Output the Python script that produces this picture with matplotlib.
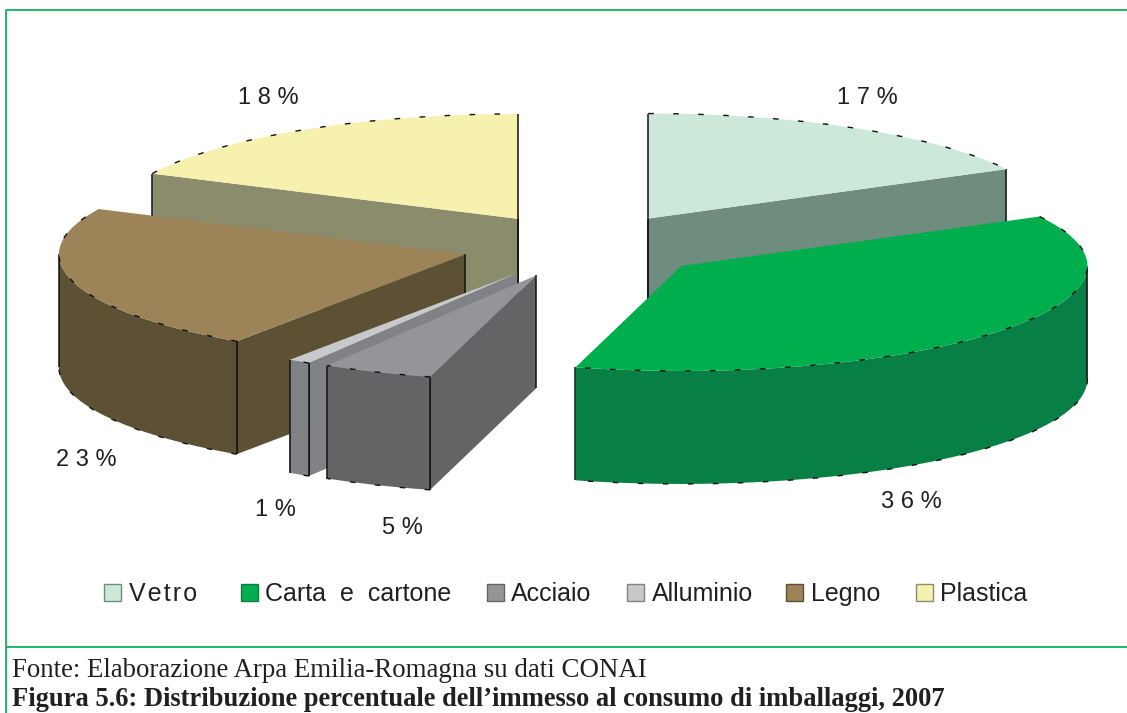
import matplotlib
matplotlib.use('Agg')
import matplotlib.pyplot as plt
from matplotlib.patches import Polygon, Rectangle
import numpy as np

# Slice sizes measured from the drawn angles, clockwise from 12 o'clock
# (the printed labels below are kept as they read on the chart)
categories = ['V\u200ae\u200at\u200ar\u200ao', 'Carta  e  cartone', 'Acciaio', 'Alluminio', 'Legno', 'Plastica']
values = [17.2, 37.0, 4.4, 0.9, 22.6, 17.9]
pct_labels = ['1 7 %', '3 6 %', '5 %', '1 %', '2 3 %', '1 8 %']

# Colours
top_colors = ['#CCE8D8', '#00AE4D', '#939598', '#C7C9CA', '#9C8458', '#F6F1AE']
side_colors = ['#6F8D7F', '#077F45', '#636466', '#808285', '#5C5134', '#8B8C6B']
frame_color = '#22B86B'
text_color = '#231F20'

# Pie geometry in pixels
cx, cy = 584.5, 246
rx, ry = 406, 105
depth = 113
explode = 0.305

# Layout
label_pos = [(867, 98), (911, 502), (402, 528), (275, 510), (86, 460), (268, 98)]
swatch_x = [104, 241, 487, 627, 786, 916]
legend_x = [129, 265, 511, 652, 811, 940]
draw_order = [0, 5, 4, 3, 2, 1]

fig = plt.figure(figsize=(11.27, 7.13), dpi=100)
ax = fig.add_axes([0, 0, 1, 1])
ax.set_xlim(0, 1127)
ax.set_ylim(713, 0)
ax.axis('off')


def arc(c, t0, t1, dy=0):
    t = np.radians(np.linspace(t0, t1, 120))
    return np.column_stack((c[0] + rx * np.sin(t), c[1] - ry * np.cos(t) + dy))


def point(c, t):
    return arc(c, t, t)[0]


def edge_line(a, b, z):
    ax.plot([a[0], b[0]], [a[1], b[1]], color='#111111', lw=1.1,
            solid_capstyle='butt', zorder=z)


def draw_wall(c, t, color, z):
    p = point(c, t)
    ax.add_patch(Polygon([c, p, (p[0], p[1] + depth), (c[0], c[1] + depth)],
                         closed=True, fc=color, ec='none', zorder=z))
    edge_line(p, (p[0], p[1] + depth), z + 1)
    edge_line(c, (c[0], c[1] + depth), z + 1)


bounds = np.concatenate(([0], np.cumsum(values))) * 3.6
bounds[-1] = 360

for k, i in enumerate(draw_order):
    z = 10 * (k + 1)
    t0, t1 = bounds[i], bounds[i + 1]
    mid = np.radians((t0 + t1) / 2)
    c = (cx + explode * rx * np.sin(mid), cy - explode * ry * np.cos(mid))

    # radial walls that face the viewer
    if np.sin(np.radians(t0)) < -1e-6:
        draw_wall(c, t0, side_colors[i], z)
    if np.sin(np.radians(t1)) > 1e-6:
        draw_wall(c, t1, side_colors[i], z)

    # front rim
    r0, r1 = max(t0, 90), min(t1, 270)
    if r1 > r0:
        top_arc = arc(c, r0, r1)
        low_arc = arc(c, r0, r1, depth)
        ax.add_patch(Polygon(np.vstack((top_arc, low_arc[::-1])), closed=True,
                             fc=side_colors[i], ec='none', zorder=z + 2))
        edge_line(top_arc[0], low_arc[0], z + 3)
        edge_line(top_arc[-1], low_arc[-1], z + 3)
        ax.plot(low_arc[:, 0], low_arc[:, 1], color='#111111', lw=1,
                ls=(0, (4, 14)), zorder=z + 3)

    # top surface
    top = arc(c, t0, t1)
    ax.add_patch(Polygon(np.vstack(([c], top)), closed=True, fc=top_colors[i],
                         ec='none', zorder=z + 4))
    ax.plot(top[:, 0], top[:, 1], color='#111111', lw=1, ls=(0, (4, 14)), zorder=z + 5)

    # vertical edge on the 12 o'clock cut
    if t0 == 0:
        edge_line(top[0], (c[0], c[1] + depth), z + 5)
    if t1 == 360:
        edge_line(top[-1], (c[0], c[1] + depth), z + 5)

for (x, y), s in zip(label_pos, pct_labels):
    ax.text(x, y, s, ha='center', va='center', fontsize=17,
            family='Liberation Sans', color=text_color, zorder=100)

# Legend
for i, name in enumerate(categories):
    ax.add_patch(Rectangle((swatch_x[i], 584), 17, 17, fc=top_colors[i],
                           ec=side_colors[i], lw=1))
    ax.text(legend_x[i], 601, name, ha='left', va='baseline', fontsize=18,
            family='Liberation Sans', color=text_color)

# Frame
ax.plot([6, 6, 1127], [713, 10, 10], color=frame_color, lw=1.4)
ax.plot([6, 1127], [647, 647], color=frame_color, lw=1.4)

# Caption
ax.text(12, 677, 'Fonte: Elaborazione Arpa Emilia-Romagna su dati CONAI',
        fontsize=19.35, family='Liberation Serif', color=text_color, va='baseline')
ax.text(12, 706, 'Figura 5.6: Distribuzione percentuale dell\u2019immesso al consumo di imballaggi, 2007',
        fontsize=19.1, family='Liberation Serif', weight='bold', color=text_color, va='baseline')

plt.savefig('out.png', dpi=100)
